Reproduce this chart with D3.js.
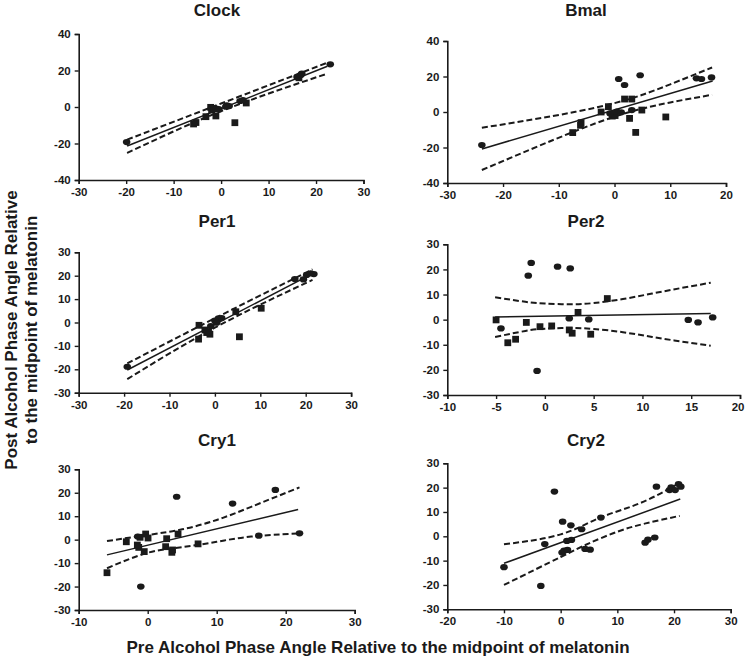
<!DOCTYPE html>
<html><head><meta charset="utf-8">
<script src="https://cdn.jsdelivr.net/npm/d3@7"></script>
<style>
html,body{margin:0;padding:0;background:#fff;}
svg{display:block;font-family:"Liberation Sans",Arial,sans-serif;}
</style></head>
<body>
<svg id="chart" width="745" height="662"></svg>
<script>
// ---------- DATA ----------
const titles = ["Clock", "Bmal", "Per1", "Per2", "Cry1", "Cry2"];

const clockXTicks = [-30, -20, -10, 0, 10, 20, 30];
const clockYTicks = [-40, -20, 0, 20, 40];
const clockCircles = [[-19.9,-19.2],[-1.0,-0.9],[-0.5,-1.2],[1.2,0.9],[1.7,0.5],[1.0,0.2],[4.0,3.3],[4.6,3.8],[16.0,16.5],[16.8,17.6],[17.0,18.3],[23.0,23.4]];
const clockSquares = [[-5.8,-9.3],[-5.3,-8.5],[-3.2,-5.3],[-2.2,-0.2],[-2.0,-1.6],[-1.6,-1.0],[-1.1,-4.9],[2.9,-8.6],[5.3,2.2],[16.4,16.0]];
const clockFit = [[-19.8,-21.4],[22.4,22.3]];
const clockUpper = [[-19.8,-17.9],[0,1.9],[22.6,24.5]];
const clockLower = [[-19.8,-25.2],[0,-2.3],[22.4,18.3]];

const bmalXTicks = [-30, -20, -10, 0, 10, 20];
const bmalYTicks = [-40, -20, 0, 20, 40];
const bmalCircles = [[-23.8,-18.6],[-0.8,-0.8],[0.4,0.2],[1.2,-0.2],[0.75,18.6],[1.8,15.2],[3.1,1.1],[4.6,20.7],[14.7,19.0],[15.6,18.6],[17.4,19.5]];
const bmalSquares = [[-7.5,-11.6],[-6.0,-6.0],[-6.1,-7.5],[-2.4,0.0],[-1.1,3.0],[-0.4,-2.3],[0.1,-2.0],[1.8,7.3],[3.1,7.3],[2.7,-3.6],[3.8,-11.5],[4.9,1.1],[9.2,-2.8]];
const bmalFit = [[-23.8,-20.8],[17.6,17.5]];
const bmalUpper = [[-23.8,-8.9],[-15,-4.4],[-7,0.1],[0,5.0],[5,9.7],[10,15.6],[17.5,25.1]];
const bmalLower = [[-23.8,-32.7],[-15,-21.0],[-7,-10.7],[0,-2.6],[5,1.9],[10,5.4],[17.5,9.7]];

const per1XTicks = [-30, -20, -10, 0, 10, 20, 30];
const per1YTicks = [-30, -20, -10, 0, 10, 20, 30];
const per1Circles = [[-19.3,-18.9],[-0.9,-1.5],[0.0,0.8],[0.8,1.8],[1.5,1.9],[0.4,-0.1],[17.6,18.6],[19.5,18.4],[20.2,20.3],[21.1,21.0],[21.8,20.7]];
const per1Squares = [[-3.5,-1.2],[-3.6,-7.1],[-2.2,-3.2],[-1.8,-4.3],[-1.1,-5.0],[-1.4,-3.9],[4.6,4.6],[5.4,-6.1],[10.2,6.1]];
const per1Fit = [[-19.3,-20.3],[21.3,20.7]];
const per1Upper = [[-19.3,-17.5],[0,1.8],[21.5,22.7]];
const per1Lower = [[-19.3,-24.2],[0,-2.2],[21.5,18.2]];

const per2XTicks = [-10, -5, 0, 5, 10, 15, 20];
const per2YTicks = [-30, -20, -10, 0, 10, 20, 30];
const per2Circles = [[-4.5,-3.5],[-1.7,17.5],[-1.4,22.6],[-0.8,-20.4],[1.3,21.1],[2.6,20.4],[2.5,0.5],[4.5,0.1],[14.7,-0.1],[15.7,-1.1],[17.2,0.9]];
const per2Squares = [[-5.0,-0.1],[-3.8,-9.2],[-3.0,-7.8],[-1.9,-1.1],[-0.5,-2.8],[0.7,-2.5],[2.5,-4.1],[2.8,-5.4],[3.4,2.9],[4.7,-5.8],[6.4,8.4]];
const per2Fit = [[-5.1,1.1],[17.0,2.4]];
const per2Upper = [[-5.1,8.9],[-2,7.1],[0,6.4],[2.5,6.1],[5,6.6],[8,8.2],[11,10.4],[14,12.6],[17,14.7]];
const per2Lower = [[-5.1,-6.9],[-2,-4.5],[0,-3.6],[2.5,-3.3],[5,-3.7],[8,-5.0],[11,-6.9],[14,-8.7],[17,-10.4]];

const cry1XTicks = [-10, 0, 10, 20, 30];
const cry1YTicks = [-30, -20, -10, 0, 10, 20, 30];
const cry1Circles = [[-1.45,1.3],[-1.0,-20.0],[4.2,18.3],[12.3,15.4],[16.1,1.7],[18.5,21.2],[22.0,2.7]];
const cry1Squares = [[-5.9,-14.1],[-3.1,-0.9],[-1.5,-2.3],[-1.3,-3.3],[-1.1,1.0],[-0.3,2.4],[0.05,0.7],[-0.5,-5.1],[2.75,0.4],[2.6,-3.0],[3.5,-5.4],[3.6,-4.4],[4.4,2.4],[7.3,-1.8]];
const cry1Fit = [[-5.9,-6.5],[21.8,12.9]];
const cry1Upper = [[-5.9,-0.6],[0,2.0],[5,4.4],[10,8.4],[15,14.0],[22,22.3]];
const cry1Lower = [[-5.9,-12.2],[0,-5.6],[5,-3.2],[10,-0.9],[15,1.3],[22,2.7]];

const cry2XTicks = [-20, -10, 0, 10, 20, 30];
const cry2YTicks = [-30, -20, -10, 0, 10, 20, 30];
const cry2Circles = [[-10.0,-12.7],[-3.5,-20.4],[-2.8,-3.2],[-1.1,18.4],[0.35,6.0],[0.25,-6.7],[0.6,-5.9],[1.1,-1.9],[1.2,-5.6],[1.8,4.5],[1.9,-1.5],[3.7,2.9],[4.3,-5.2],[5.2,-5.5],[7.1,7.7],[14.9,-2.6],[15.4,-1.4],[16.6,-0.5],[16.9,20.4],[19.2,19.0],[19.5,20.1],[20.2,19.0],[20.8,21.5],[21.2,20.4]];
const cry2Squares = [];
const cry2Fit = [[-10.0,-11.1],[21.1,15.3]];
const cry2Upper = [[-10,-3.3],[0,0.8],[7,7.7],[14,13.6],[21,22.0]];
const cry2Lower = [[-10,-20.0],[0,-8.5],[5,-2.9],[10,1.9],[15,5.3],[21,8.4]];

const yAxisLabel = ["Post Alcohol Phase Angle Relative", "to the midpoint of melatonin"];
const xAxisLabel = "Pre Alcohol Phase Angle Relative to the midpoint of melatonin";

// ---------- LAYOUT ----------
const layout = [
  {x0:78.7, x1:363.5, y0:180, y1:34, tx:217, ty:16},
  {x0:447.3, x1:726, y0:183, y1:41, tx:586, ty:16},
  {x0:78.7, x1:351.1, y0:392.7, y1:252.3, tx:217, ty:226.5},
  {x0:447.3, x1:740, y0:395, y1:244.3, tx:586, ty:226.5},
  {x0:78.7, x1:354.7, y0:610, y1:469.3, tx:217, ty:446},
  {x0:447.3, x1:730.7, y0:609.3, y1:463.3, tx:586, ty:446}
];

const panels = [
  {xt:clockXTicks, yt:clockYTicks, c:clockCircles, s:clockSquares, fit:clockFit, up:clockUpper, lo:clockLower},
  {xt:bmalXTicks, yt:bmalYTicks, c:bmalCircles, s:bmalSquares, fit:bmalFit, up:bmalUpper, lo:bmalLower},
  {xt:per1XTicks, yt:per1YTicks, c:per1Circles, s:per1Squares, fit:per1Fit, up:per1Upper, lo:per1Lower},
  {xt:per2XTicks, yt:per2YTicks, c:per2Circles, s:per2Squares, fit:per2Fit, up:per2Upper, lo:per2Lower},
  {xt:cry1XTicks, yt:cry1YTicks, c:cry1Circles, s:cry1Squares, fit:cry1Fit, up:cry1Upper, lo:cry1Lower},
  {xt:cry2XTicks, yt:cry2YTicks, c:cry2Circles, s:cry2Squares, fit:cry2Fit, up:cry2Upper, lo:cry2Lower}
];

const svg = d3.select("#chart");
const ink = "#1a1a1a";
const W = 745;

panels.forEach((p, i) => {
  const L = layout[i];
  const x = d3.scaleLinear().domain(d3.extent(p.xt)).range([L.x0, L.x1]);
  const y = d3.scaleLinear().domain(d3.extent(p.yt)).range([L.y0, L.y1]);
  const g = svg.append("g");

  g.append("text").attr("x", L.tx).attr("y", L.ty).attr("text-anchor", "middle")
    .attr("font-size", 17).attr("font-weight", "bold").attr("fill", ink).text(titles[i]);

  const xa = g.append("g").attr("transform", `translate(0,${L.y0})`)
    .call(d3.axisBottom(x).tickValues(p.xt).tickSize(4).tickPadding(4).tickFormat(d3.format("d")));
  const ya = g.append("g").attr("transform", `translate(${L.x0},0)`)
    .call(d3.axisLeft(y).tickValues(p.yt).tickSize(4).tickPadding(4).tickFormat(d3.format("d")));
  [xa, ya].forEach(a => {
    a.select(".domain").attr("stroke", ink).attr("stroke-width", 1.6);
    a.selectAll(".tick line").attr("stroke", ink).attr("stroke-width", 1.4);
    a.selectAll(".tick text").attr("fill", ink).attr("font-size", 11.5).attr("font-weight", "bold")
      .attr("font-family", "'Liberation Sans',Arial,sans-serif");
  });
  xa.selectAll(".tick text").text(d => d < 0 ? "-" + Math.abs(d) : d);
  ya.selectAll(".tick text").text(d => d < 0 ? "-" + Math.abs(d) : d);
  // keep the right-most tick label inside the page
  xa.selectAll(".tick text").each(function(d) {
    const bb = this.getBBox();
    const right = x(d) + bb.x + bb.width;
    if (right > W - 1) d3.select(this).attr("dx", (W - 1 - right) + "px");
  });

  const line = d3.line().x(d => x(d[0])).y(d => y(d[1])).curve(d3.curveNatural);
  g.append("path").attr("d", line(p.fit)).attr("fill", "none").attr("stroke", ink).attr("stroke-width", 1.5);
  [p.up, p.lo].forEach(b => {
    g.append("path").attr("d", line(b)).attr("fill", "none").attr("stroke", ink)
      .attr("stroke-width", 2).attr("stroke-dasharray", "6,3");
  });

  g.selectAll("rect.pt").data(p.s).join("rect").attr("class", "pt")
    .attr("x", d => x(d[0]) - 3.4).attr("y", d => y(d[1]) - 3.4)
    .attr("width", 6.8).attr("height", 6.8).attr("fill", ink);
  g.selectAll("ellipse.pt").data(p.c).join("ellipse").attr("class", "pt")
    .attr("cx", d => x(d[0])).attr("cy", d => y(d[1]))
    .attr("rx", 3.8).attr("ry", 3.1).attr("fill", ink);
});

// axis titles
const yl = svg.append("text").attr("transform", "translate(0,330) rotate(-90)")
  .attr("text-anchor", "middle").attr("font-size", 17).attr("font-weight", "bold").attr("fill", ink);
yl.append("tspan").attr("x", 0).attr("y", 17).text(yAxisLabel[0]);
yl.append("tspan").attr("x", 0).attr("y", 37).text(yAxisLabel[1]);

svg.append("text").attr("x", 378).attr("y", 653).attr("text-anchor", "middle")
  .attr("font-size", 17).attr("font-weight", "bold").attr("fill", ink).text(xAxisLabel);
</script>
</body></html>
